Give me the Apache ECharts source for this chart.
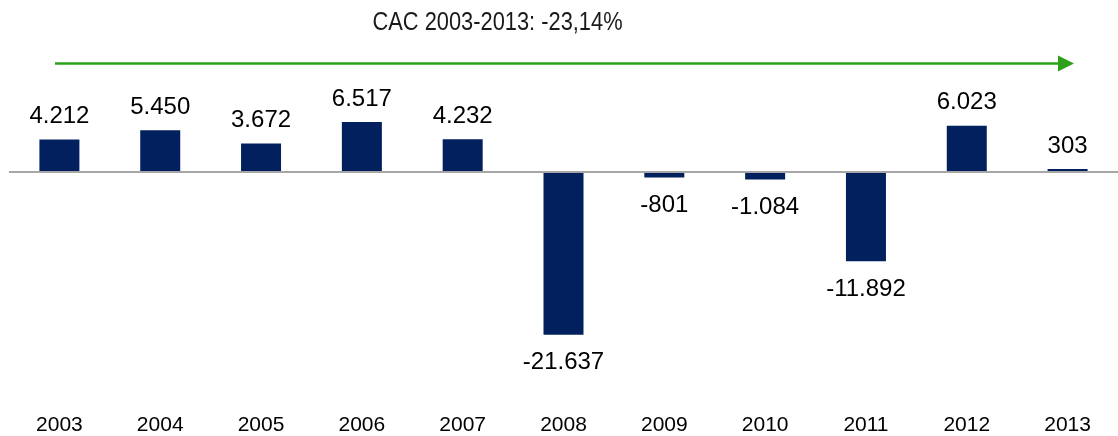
<!DOCTYPE html>
<html>
<head>
<meta charset="utf-8">
<script src="https://cdn.jsdelivr.net/npm/echarts@6/dist/echarts.min.js"></script>
<style>
    html, body { margin: 0; padding: 0; background: #fff; }
    #chart { width: 1118px; height: 436px; }
</style>
</head>
<body>
<div id="chart"></div>
<script>
const years = ['2003', '2004', '2005', '2006', '2007', '2008', '2009', '2010', '2011', '2012', '2013'];
const values = [4212, 5450, 3672, 6517, 4232, -21637, -801, -1084, -11892, 6023, 303];
const titleText = 'CAC 2003-2013: -23,14%';

// numbers written the european way: 4.212, -21.637
const fmt = v => {
    const s = Math.abs(v).toString().replace(/\B(?=(\d{3})+(?!\d))/g, '.');
    return (v < 0 ? '-' : '') + s;
};

const myChart = echarts.init(document.getElementById('chart'));

const option = {
    animation: false,
    grid: {
        left: 9,
        right: 0,
        top: 58,
        bottom: 32
    },
    xAxis: {
        type: 'category',
        data: years,
        axisLine: { show: false, onZero: false },
        axisTick: { show: false },
        axisLabel: {
            margin: 17,
            fontFamily: '"Liberation Sans", Arial, sans-serif',
            fontSize: 21,
            color: '#000'
        }
    },
    yAxis: {
        type: 'value',
        min: -30000,
        max: 15000,
        show: false,
        splitLine: { show: false }
    },
    series: [
        {
            type: 'bar',
            // negative bars carry their label underneath
            data: values.map(v => ({
                value: v,
                label: v < 0 ? { position: 'bottom', distance: 16 } : { position: 'top', distance: 11 }
            })),
            barWidth: 40,
            itemStyle: { color: '#02205e' },
            label: {
                show: true,
                fontFamily: '"Liberation Sans", Arial, sans-serif',
                fontSize: 24,
                color: '#000',
                formatter: p => fmt(p.value)
            },
            markLine: {
                silent: true,
                symbol: 'none',
                label: { show: false },
                lineStyle: { color: '#a6a6a6', width: 2, type: 'solid' },
                data: [{ yAxis: 0 }]
            }
        }
    ],
    graphic: [
        {
            // narrow title: arial squeezed sideways
            type: 'text',
            x: 497.5,
            y: 22.5,
            scaleX: 0.84,
            style: {
                text: titleText,
                x: 0,
                y: 0,
                align: 'center',
                verticalAlign: 'middle',
                font: '26px "Liberation Sans", Arial, sans-serif',
                fill: '#1a1a1a'
            }
        },
        {
            type: 'line',
            shape: { x1: 55, y1: 63.5, x2: 1062, y2: 63.5 },
            style: { stroke: '#2ea01c', lineWidth: 2.5 }
        },
        {
            type: 'polygon',
            shape: { points: [[1058, 55.5], [1074, 63.5], [1058, 71.5]] },
            style: { fill: '#2ea01c' }
        }
    ]
};

myChart.setOption(option);
</script>
</body>
</html>
